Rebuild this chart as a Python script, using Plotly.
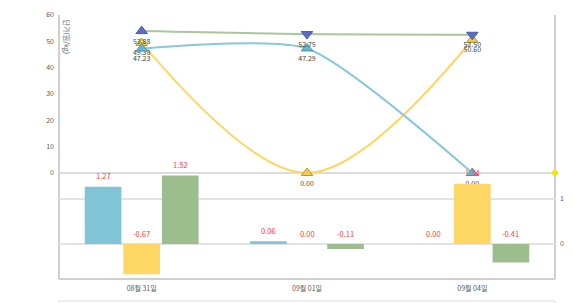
import plotly.graph_objects as go

categories = ["08월 31일", "09월 01일", "09월 04일"]
price_green = [53.88, 52.75, 52.50]
price_blue = [47.23, 47.29, 0.00]
price_yellow = [49.38, 0.00, 50.60]
change_blue = [1.27, 0.06, 0.00]
change_yellow = [-0.67, 0.00, 1.34]
change_green = [1.52, -0.11, -0.41]
left_ticks = [0, 10, 20, 30, 40, 50, 60]
right_ticks = [0, 1]
y_title = "단가(원/kg)"

FONT = "Noto Sans CJK KR"
C_BLUE = "#80c4d8"
C_YEL = "#fdd663"
C_GRN = "#9cbd8e"
TXT = "#5a5a5a"

fig = go.Figure()

# bars (bottom panel)
for vals, col in [(change_blue, C_BLUE), (change_yellow, C_YEL), (change_green, C_GRN)]:
    fig.add_trace(go.Bar(x=categories, y=vals, marker=dict(color=col, line=dict(width=0)),
                         xaxis="x2", yaxis="y2", showlegend=False, hoverinfo="skip"))

# lines (top panel)
line_specs = [
    (price_yellow, "#fdd663", "#f3cc4e", "#b89a2c", ["triangle-up"] * 3, 1.0),
    (price_blue, "#86c8dc", "#6cb3d3", "#4f92b5", ["triangle-up"] * 3, 0.6),
    (price_green, "#a8c79c", "#5b6cc5", "#4a5bb0", ["triangle-up", "triangle-down", "triangle-down"], 1.0),
]
for vals, lc, mc, mlc, syms, sm in line_specs:
    fig.add_trace(go.Scatter(
        x=categories, y=vals, mode="lines+markers+text",
        line=dict(color=lc, width=2, shape="spline", smoothing=sm),
        marker=dict(symbol=syms, size=10, color=mc, line=dict(color=mlc, width=1)),
        text=[f"{v:.2f}" for v in vals], textposition="bottom center",
        textfont=dict(size=7, color="#444", family=FONT),
        cliponaxis=False, xaxis="x", yaxis="y", showlegend=False, hoverinfo="skip"))

# bar labels
annotations = []
for vals, shift in [(change_blue, -38.6), (change_yellow, 0), (change_green, 38.6)]:
    for c, v in zip(categories, vals):
        annotations.append(dict(x=c, y=max(v, 0), xref="x2", yref="y2", text=f"{v:.2f}",
                                showarrow=False, xshift=shift, yshift=11,
                                font=dict(size=7.5, color="#ff3b3b", family=FONT)))
annotations.append(dict(x=0, y=1, xref="paper", yref="paper", text=y_title, textangle=90,
                        showarrow=False, xanchor="left", yanchor="top", xshift=1, yshift=-2,
                        font=dict(size=7, color=TXT, family=FONT)))

shapes = [
    dict(type="line", xref="paper", yref="paper", x0=0, x1=0, y0=0, y1=1,
         line=dict(color="#cfcfcf", width=2), layer="below"),
    dict(type="line", xref="paper", yref="paper", x0=1, x1=1, y0=0, y1=1,
         line=dict(color="#cfcfcf", width=2), layer="below"),
    dict(type="line", xref="paper", yref="paper", x0=0, x1=1, y0=0, y1=0,
         line=dict(color="#cfcfcf", width=2), layer="below"),
    dict(type="line", xref="paper", yref="y", x0=0, x1=1, y0=0, y1=0,
         line=dict(color="#dcdcdc", width=2), layer="below"),
    dict(type="circle", xref="paper", yref="y", xsizemode="pixel", ysizemode="pixel",
         xanchor=1, yanchor=0, x0=-3, x1=3, y0=-3, y1=3,
         fillcolor="#f2e600", line=dict(width=0)),
    dict(type="rect", xref="paper", yref="paper", x0=0, x1=1, y0=-0.5, y1=-0.083,
         line=dict(color="#dddddd", width=1)),
]

top_h = 279 - 173
plot_h = 264
dom_split = top_h / plot_h
px_per_unit = (173 - 15) / 60.0
top_dom0 = (top_h - px_per_unit * 1) / plot_h

# page body has an 8px default margin: size figure so the plot lands where the reference has it
fig.update_layout(
    width=565, height=295,
    margin=dict(l=51, r=18, t=7, b=24, autoexpand=False),
    paper_bgcolor="white", plot_bgcolor="rgba(0,0,0,0)",
    font=dict(family=FONT, size=7, color=TXT),
    barmode="group", bargap=0.3, bargroupgap=0.05,
    showlegend=False,
    xaxis=dict(type="category", range=[-0.5, 2.5], domain=[0, 1], anchor="y",
               showticklabels=False, showgrid=False, zeroline=False, showline=False,
               matches="x2", automargin=False),
    yaxis=dict(domain=[top_dom0, 1], range=[-1, 60], tickvals=left_ticks, anchor="x",
               showgrid=False, zeroline=False, showline=False, ticks="", automargin=False,
               tickfont=dict(size=7, color=TXT), ticklabelstandoff=4),
    xaxis2=dict(type="category", range=[-0.5, 2.5], domain=[0, 1], anchor="y2",
                showgrid=False, zeroline=False, showline=False, ticks="", automargin=False,
                tickfont=dict(size=7, color=TXT), ticklabelstandoff=4),
    yaxis2=dict(domain=[0, dom_split], range=[-0.778, 1.578], tickvals=right_ticks,
                side="right", anchor="x2", showgrid=True, gridcolor="#e2e2e2", gridwidth=2,
                zeroline=False, showline=False, ticks="", automargin=False,
                tickfont=dict(size=7, color=TXT), ticklabelstandoff=4),
    annotations=annotations,
    shapes=shapes,
)

fig.write_html("out.html")
